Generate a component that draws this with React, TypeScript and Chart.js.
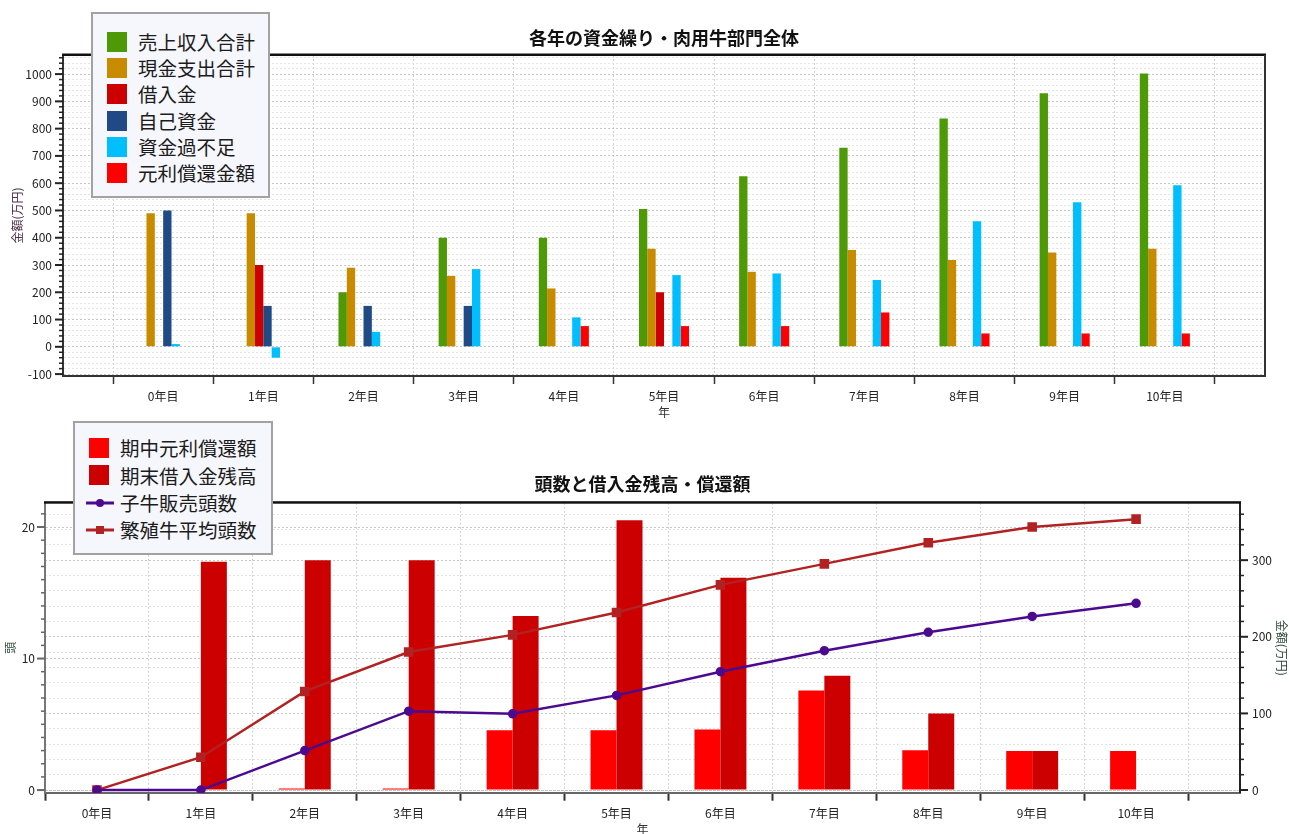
import { useEffect, useRef } from 'react';
import { Chart, registerables } from 'chart.js';

Chart.register(...registerables);

const FONT = '"Noto Sans CJK JP", "Noto Sans", sans-serif';

// 年次カテゴリ
const YEARS = ['0年目', '1年目', '2年目', '3年目', '4年目', '5年目', '6年目', '7年目', '8年目', '9年目', '10年目'];

// 各年の資金繰り (万円)
const SALES_TOTAL = [null, null, 200, 400, 400, 505, 625, 730, 837, 930, 1002];
const CASH_OUT_TOTAL = [490, 490, 290, 260, 214, 360, 275, 355, 318, 346, 360];
const BORROWED = [null, 300, null, null, null, 200, null, null, null, null, null];
const OWN_FUNDS = [500, 150, 150, 150, null, null, null, null, null, null, null];
const CASH_BALANCE = [10, -40, 55, 285, 108, 263, 269, 245, 460, 530, 592];
const REPAYMENT = [null, null, null, null, 76, 76, 76, 126, 49, 49, 49];

// 頭数と借入金残高・償還額
const MID_REPAYMENT = [0, 0, 2, 2, 78, 78, 79, 130, 52, 51, 51]; // 万円
const LOAN_BALANCE = [0, 298, 300, 300, 227, 352, 277, 149, 100, 51, 0]; // 万円
const CALVES_SOLD = [0, 0, 3.0, 6.0, 5.8, 7.2, 9.0, 10.6, 12.0, 13.2, 14.2]; // 頭
const BREEDING_AVG = [0, 2.5, 7.5, 10.5, 11.8, 13.5, 15.6, 17.2, 18.8, 20.0, 20.6]; // 頭

const GREEN = '#4E9A06';
const GOLD = '#C88B00';
const DARK_RED = '#CC0000';
const NAVY = '#1F4A86';
const SKY = '#00BFFF';
const RED = '#FF0000';
const PURPLE = '#4B0A8F';
const BRICK = '#B22222';

const TOP_SERIES = [
  { label: '売上収入合計', color: GREEN, values: SALES_TOTAL },
  { label: '現金支出合計', color: GOLD, values: CASH_OUT_TOTAL },
  { label: '借入金', color: DARK_RED, values: BORROWED },
  { label: '自己資金', color: NAVY, values: OWN_FUNDS },
  { label: '資金過不足', color: SKY, values: CASH_BALANCE },
  { label: '元利償還金額', color: RED, values: REPAYMENT },
];

const toPoints = (values: (number | null)[]) => values.map((y, x) => ({ x, y }));
const yearTicks = (axis: any) => {
  axis.ticks = YEARS.map((_, i) => ({ value: i }));
};

// Tick marks on value axes: long for labelled values, short for the rest
const axisTickMarks = {
  id: 'axisTickMarks',
  afterDraw(chart: any, _args: any, opts: any) {
    const ctx = chart.ctx;
    (opts.axes || []).forEach((a: any) => {
      const scale = chart.scales[a.id];
      if (!scale) return;
      ctx.save();
      ctx.strokeStyle = a.color;
      scale.ticks.forEach((t: any) => {
        const major = Math.abs(t.value % a.major) < 1e-6;
        const len = major ? 8 : 4;
        ctx.lineWidth = major ? 2 : 1.5;
        const y = scale.getPixelForValue(t.value);
        const x0 = a.side === 'left' ? scale.right : scale.left;
        const x1 = a.side === 'left' ? x0 - len : x0 + len;
        ctx.beginPath();
        ctx.moveTo(x0, y);
        ctx.lineTo(x1, y);
        ctx.stroke();
      });
      ctx.restore();
    });
  },
};

// Heavy top edge (and optional right edge) of the plot area
const plotFrame = {
  id: 'plotFrame',
  afterDraw(chart: any, _args: any, opts: any) {
    const { ctx, chartArea: a } = chart;
    ctx.save();
    ctx.fillStyle = '#111';
    ctx.fillRect(a.left - 1, a.top - 1.5, a.right - a.left + 2, 2.5);
    if (opts.right) {
      ctx.fillStyle = opts.right;
      ctx.fillRect(a.right - 1, a.top, 2, a.bottom - a.top);
    }
    ctx.restore();
  },
};

const tickFont = { family: FONT, size: 12 };
const minorMajorColor = (major: number, majorColor: string, minorColor: string) => (c: any) =>
  c.tick && Math.abs(c.tick.value % major) < 1e-6 ? majorColor : minorColor;

function topConfig(): any {
  return {
    type: 'bar',
    data: {
      datasets: TOP_SERIES.map((s) => ({
        label: s.label,
        data: toPoints(s.values),
        backgroundColor: s.color,
        borderWidth: 0,
        categoryPercentage: 0.5,
        barPercentage: 1,
      })),
    },
    options: {
      animation: false,
      responsive: false,
      layout: { padding: { left: 0, right: 24, top: 0, bottom: 0 } },
      plugins: {
        legend: { display: false },
        tooltip: { enabled: false },
        title: {
          display: true,
          text: '各年の資金繰り・肉用牛部門全体',
          fullSize: false,
          color: '#111',
          font: { family: FONT, size: 18, weight: 'bold' },
          padding: { top: 27, bottom: 6.4 },
        },
        axisTickMarks: { axes: [{ id: 'y', side: 'left', major: 100, color: '#222' }] },
        plotFrame: { right: '#333' },
      },
      scales: {
        x: {
          type: 'linear',
          offset: false,
          min: -1,
          max: 11,
          afterBuildTicks: yearTicks,
          afterFit: (axis: any) => { axis.height = 44; },
          ticks: {
            autoSkip: false,
            maxRotation: 0,
            padding: 5,
            font: tickFont,
            color: '#222',
            callback: (v: number) => YEARS[v] ?? '',
          },
          grid: { offset: true, color: '#cfcfcf', lineWidth: 1, tickLength: 8, tickColor: '#333', tickWidth: 1.5, tickBorderDash: [] },
          border: { color: '#333', width: 2, dash: [2, 2] },
          title: { display: true, text: '年', color: '#333', font: tickFont, padding: { top: 0, bottom: 0 } },
        },
        y: {
          min: -107,
          max: 1070,
          afterFit: (axis: any) => { axis.width = 63; },
          ticks: {
            stepSize: 20,
            includeBounds: false,
            autoSkip: false,
            padding: 11,
            font: tickFont,
            color: '#222',
            callback: (v: number) => (v % 100 === 0 ? String(v) : ''),
          },
          grid: { drawTicks: false, lineWidth: 1, color: minorMajorColor(100, '#c6c6c6', '#e4e4e4') },
          border: { color: '#333', width: 2, dash: [2, 2] },
          title: { display: true, text: '金額(万円)', color: '#50304a', font: tickFont, padding: { top: 10, bottom: 0 } },
        },
      },
    },
    plugins: [axisTickMarks, plotFrame],
  };
}

function bottomConfig(): any {
  return {
    type: 'bar',
    data: {
      datasets: [
        {
          type: 'line',
          label: '子牛販売頭数',
          data: toPoints(CALVES_SOLD),
          yAxisID: 'y',
          borderColor: PURPLE,
          backgroundColor: PURPLE,
          borderWidth: 2.5,
          pointStyle: 'circle',
          pointRadius: 3.5,
          tension: 0,
          order: 0,
        },
        {
          type: 'line',
          label: '繁殖牛平均頭数',
          data: toPoints(BREEDING_AVG),
          yAxisID: 'y',
          borderColor: BRICK,
          backgroundColor: BRICK,
          borderWidth: 2.5,
          pointStyle: 'rect',
          pointRadius: 5,
          tension: 0,
          order: 0,
        },
        {
          label: '期中元利償還額',
          data: toPoints(MID_REPAYMENT),
          yAxisID: 'y1',
          backgroundColor: RED,
          borderWidth: 0,
          categoryPercentage: 0.5,
          barPercentage: 1,
          order: 1,
        },
        {
          label: '期末借入金残高',
          data: toPoints(LOAN_BALANCE),
          yAxisID: 'y1',
          backgroundColor: DARK_RED,
          borderWidth: 0,
          categoryPercentage: 0.5,
          barPercentage: 1,
          order: 1,
        },
      ],
    },
    options: {
      animation: false,
      responsive: false,
      layout: { padding: { left: 0, right: 0, top: 0, bottom: 0 } },
      plugins: {
        legend: { display: false },
        tooltip: { enabled: false },
        title: {
          display: true,
          text: '頭数と借入金残高・償還額',
          fullSize: false,
          color: '#111',
          font: { family: FONT, size: 18, weight: 'bold' },
          padding: { top: 53.6, bottom: 7.5 },
        },
        axisTickMarks: {
          axes: [
            { id: 'y', side: 'left', major: 10, color: '#666' },
            { id: 'y1', side: 'right', major: 100, color: '#222' },
          ],
        },
        plotFrame: {},
      },
      scales: {
        x: {
          type: 'linear',
          offset: false,
          min: -0.5,
          max: 11,
          afterBuildTicks: yearTicks,
          afterFit: (axis: any) => { axis.height = 47.3; },
          ticks: {
            autoSkip: false,
            maxRotation: 0,
            padding: 6,
            font: tickFont,
            color: '#222',
            callback: (v: number) => YEARS[v] ?? '',
          },
          grid: { offset: true, color: '#cfcfcf', lineWidth: 1, tickLength: 8, tickColor: '#333', tickWidth: 2, tickBorderDash: [] },
          border: { color: '#666', width: 2, dash: [2, 2] },
          title: { display: true, text: '年', color: '#333', font: tickFont, padding: { top: 0, bottom: 3 } },
        },
        y: {
          position: 'left',
          min: -0.2,
          max: 21.85,
          afterFit: (axis: any) => { axis.width = 45; },
          ticks: {
            stepSize: 1,
            includeBounds: false,
            autoSkip: false,
            padding: 10,
            font: tickFont,
            color: '#222',
            callback: (v: number) => (v % 10 === 0 ? String(v) : ''),
          },
          grid: { drawTicks: false, lineWidth: 1, color: minorMajorColor(10, '#c6c6c6', 'rgba(0,0,0,0)') },
          border: { color: '#777', width: 2, dash: [2, 2] },
          title: { display: true, text: '頭', color: '#2e4a3a', font: tickFont, padding: { top: 3, bottom: 0 } },
        },
        y1: {
          position: 'right',
          min: -3.5,
          max: 375,
          afterFit: (axis: any) => { axis.width = 49; },
          ticks: {
            stepSize: 20,
            includeBounds: false,
            autoSkip: false,
            padding: 12,
            font: tickFont,
            color: '#222',
            callback: (v: number) => (v % 100 === 0 ? String(v) : ''),
          },
          grid: { drawTicks: false, lineWidth: 1, color: minorMajorColor(100, '#c6c6c6', '#e2e2e2') },
          border: { color: '#222', width: 2, dash: [2, 2] },
          title: { display: true, text: '金額(万円)', color: '#2e4a3a', font: tickFont, padding: { top: 0, bottom: 0 } },
        },
      },
    },
    plugins: [axisTickMarks, plotFrame],
  };
}

function ChartCanvas({ top, height, make }: { top: number; height: number; make: () => any }) {
  const ref = useRef<HTMLCanvasElement>(null);
  useEffect(() => {
    const chart = new Chart(ref.current as HTMLCanvasElement, make());
    return () => chart.destroy();
  }, []);
  return (
    <canvas
      ref={ref}
      width={1289}
      height={height}
      style={{ position: 'absolute', left: 0, top, width: 1289, height, display: 'block' }}
    />
  );
}

type LegendItem = { label: string; color: string; kind: 'box' | 'circle' | 'square' };

function Legend(props: {
  items: LegendItem[];
  left: number;
  top: number;
  width: number;
  height: number;
  padTop: number;
  rowH: number;
}) {
  const { items, left, top, width, height, padTop, rowH } = props;
  return (
    <div
      style={{
        position: 'absolute',
        left,
        top,
        width,
        height,
        boxSizing: 'border-box',
        border: '2px solid #a2a2a2',
        background: '#f6f7fd',
        paddingTop: padTop,
        fontFamily: FONT,
        fontSize: 19.5,
        color: '#1c1c1c',
      }}
    >
      {items.map((it) => (
        <div key={it.label} style={{ position: 'relative', height: rowH }}>
          {it.kind === 'box' ? (
            <div
              style={{
                position: 'absolute',
                left: 14,
                top: rowH / 2 - 10,
                width: 20,
                height: 20,
                background: it.color,
              }}
            />
          ) : (
            <svg
              width={28}
              height={12}
              style={{ position: 'absolute', left: 11, top: rowH / 2 - 6 }}
            >
              <line x1={0} y1={6} x2={28} y2={6} stroke={it.color} strokeWidth={3} />
              {it.kind === 'circle' ? (
                <circle cx={14} cy={6} r={4} fill={it.color} />
              ) : (
                <rect x={10} y={2} width={8} height={8} fill={it.color} />
              )}
            </svg>
          )}
          <span
            style={{
              position: 'absolute',
              left: 45,
              top: 0,
              height: rowH,
              lineHeight: `${rowH}px`,
              whiteSpace: 'nowrap',
            }}
          >
            {it.label}
          </span>
        </div>
      ))}
    </div>
  );
}

const TOP_LEGEND: LegendItem[] = TOP_SERIES.map((s) => ({ label: s.label, color: s.color, kind: 'box' }));
const BOTTOM_LEGEND: LegendItem[] = [
  { label: '期中元利償還額', color: RED, kind: 'box' },
  { label: '期末借入金残高', color: DARK_RED, kind: 'box' },
  { label: '子牛販売頭数', color: PURPLE, kind: 'circle' },
  { label: '繁殖牛平均頭数', color: BRICK, kind: 'square' },
];

export default function App() {
  return (
    <div
      style={{
        position: 'absolute',
        left: 0,
        top: 0,
        width: 1289,
        height: 834,
        overflow: 'hidden',
        background: '#fff',
      }}
    >
      <ChartCanvas top={0} height={420} make={topConfig} />
      <ChartCanvas top={420} height={420} make={bottomConfig} />
      <Legend items={TOP_LEGEND} left={91} top={12} width={179} height={186} padTop={15} rowH={26.2} />
      <Legend items={BOTTOM_LEGEND} left={73} top={421} width={200} height={134} padTop={11.3} rowH={27.3} />
    </div>
  );
}
